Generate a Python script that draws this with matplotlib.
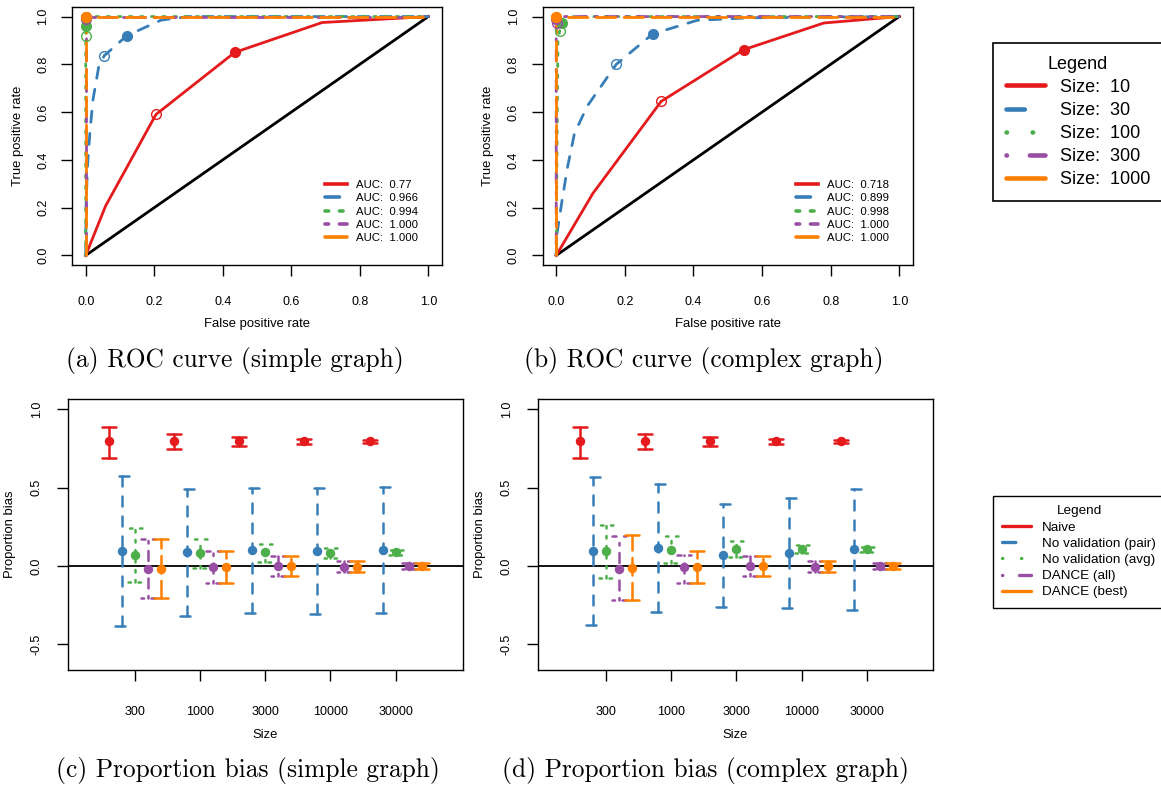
import numpy as np
import matplotlib.pyplot as plt
from matplotlib.lines import Line2D

plt.rcParams['font.family'] = ['Liberation Sans', 'DejaVu Sans']
plt.rcParams['axes.unicode_minus'] = False

# ---- data: ROC curves (fpr, tpr), open / filled threshold points ----
sizes_roc = ["10", "30", "100", "300", "1000"]

# (a) simple graph
a_fpr = [[0, 0.058, 0.205, 0.435, 0.69, 1],
         [0, 0.001, 0.005, 0.012, 0.021, 0.038, 0.054, 0.12, 0.22, 0.30, 1],
         [0, 0, 0, 0.02, 1],
         [0, 0, 1],
         [0, 0, 1]]
a_tpr = [[0, 0.207, 0.59, 0.85, 0.975, 1],
         [0, 0.2, 0.37, 0.51, 0.65, 0.79, 0.836, 0.92, 0.985, 1.0, 1],
         [0, 0.92, 0.96, 1, 1],
         [0, 1, 1],
         [0, 1, 1]]
a_open = [(0.205, 0.59), (0.054, 0.836), (0, 0.92), (0, 0.99), (0, 1)]
a_fill = [(0.435, 0.85), (0.12, 0.92), (0, 0.96), (0, 1), (0, 1)]
a_auc = ["0.77", "0.966", "0.994", "1.000", "1.000"]

# (b) complex graph
b_fpr = [[0, 0.107, 0.306, 0.546, 0.78, 1],
         [0, 0.002, 0.017, 0.033, 0.053, 0.09, 0.175, 0.281, 0.41, 0.57, 1],
         [0, 0.005, 0.01, 0.017, 0.05, 1],
         [0, 0, 0.01, 1],
         [0, 0, 1]]
b_tpr = [[0, 0.26, 0.645, 0.861, 0.973, 1],
         [0, 0.088, 0.23, 0.37, 0.51, 0.624, 0.80, 0.927, 0.984, 0.995, 1],
         [0, 0.9, 0.94, 0.975, 1, 1],
         [0, 0.97, 1, 1],
         [0, 1, 1]]
b_open = [(0.306, 0.645), (0.175, 0.80), (0.01, 0.94), (0.003, 0.975), (0, 1)]
b_fill = [(0.546, 0.861), (0.281, 0.927), (0.017, 0.975), (0, 0.99), (0, 1)]
b_auc = ["0.718", "0.899", "0.998", "1.000", "1.000"]

# ---- data: proportion bias (mean, low, high) per method x size ----
bias_sizes = ["300", "1000", "3000", "10000", "30000"]
methods = ["Naive", "No validation (pair)", "No validation (avg)",
           "DANCE (all)", "DANCE (best)"]

c_mean = [[0.80, 0.795, 0.795, 0.795, 0.795],
          [0.097, 0.087, 0.102, 0.095, 0.10],
          [0.072, 0.081, 0.087, 0.085, 0.087],
          [-0.019, -0.006, 0.0, -0.004, 0.0],
          [-0.019, -0.004, 0.002, -0.004, 0.0]]
c_lo = [[0.69, 0.747, 0.764, 0.779, 0.786],
        [-0.382, -0.32, -0.297, -0.308, -0.30],
        [-0.10, -0.011, 0.025, 0.053, 0.068],
        [-0.206, -0.106, -0.064, -0.038, -0.021],
        [-0.206, -0.106, -0.062, -0.038, -0.021]]
c_hi = [[0.89, 0.843, 0.823, 0.809, 0.803],
        [0.573, 0.49, 0.499, 0.497, 0.503],
        [0.244, 0.172, 0.142, 0.117, 0.102],
        [0.17, 0.097, 0.064, 0.034, 0.017],
        [0.172, 0.095, 0.064, 0.034, 0.017]]

d_mean = [[0.80, 0.795, 0.795, 0.795, 0.795],
          [0.097, 0.117, 0.068, 0.085, 0.106],
          [0.097, 0.104, 0.11, 0.106, 0.108],
          [-0.017, -0.006, 0.0, -0.004, 0.0],
          [-0.015, -0.006, 0.0, -0.002, 0.0]]
d_lo = [[0.69, 0.747, 0.764, 0.779, 0.786],
        [-0.374, -0.293, -0.263, -0.27, -0.28],
        [-0.074, 0.019, 0.055, 0.081, 0.089],
        [-0.219, -0.108, -0.064, -0.038, -0.021],
        [-0.219, -0.108, -0.064, -0.038, -0.021]]
d_hi = [[0.89, 0.843, 0.823, 0.809, 0.803],
        [0.569, 0.522, 0.397, 0.437, 0.49],
        [0.263, 0.191, 0.161, 0.136, 0.123],
        [0.189, 0.072, 0.066, 0.034, 0.017],
        [0.196, 0.095, 0.066, 0.034, 0.017]]

cols = ['#E41A1C', '#377EB8', '#4DAF4A', '#984EA3', '#FF7F00']
# R line types: solid, dashed, dotted, dotdash, longdash
ltys = [(), (4, 4), (1, 3), (1, 3, 4, 3), (7, 3)]
# short legend keys show only the start of each pattern
key_ltys = [(), (4, 6), (0.1, 5.6), (0.1, 5.0, 4, 3), (9, 3)]

W, H = 1161, 791
fig = plt.figure(figsize=(W / 100, H / 100), dpi=100)


def px_axes(l, t, r, b):
    return fig.add_axes([l / W, 1 - b / H, (r - l) / W, (b - t) / H])


def ls(pats, k, scale=1.0):
    if not pats[k]:
        return '-'
    return (0, tuple(v * scale for v in pats[k]))


def style(ax, xpad, ypad):
    for s in ax.spines.values():
        s.set_linewidth(1.0)
    ax.tick_params(direction='out', length=8, width=1, labelsize=9, colors='black')
    ax.tick_params(axis='x', pad=xpad)
    ax.tick_params(axis='y', pad=ypad, labelrotation=90)
    for lab in ax.get_yticklabels():
        lab.set_va('center')
    ax.xaxis.label.set_va('center')
    ax.yaxis.label.set_va('center')


def roc_panel(box, fpr, tpr, opn, fil, auc):
    ax = px_axes(*box)
    ax.plot([0, 1], [0, 1], color='black', lw=2.0)
    for k in range(5):
        ax.plot(fpr[k], tpr[k], color=cols[k], lw=2.0, ls=ls(ltys, k),
                dash_capstyle='round')
    for k in range(5):
        ax.plot(*opn[k], 'o', mfc='none', mec=cols[k], ms=7, mew=1.0)
        ax.plot(*fil[k], 'o', color=cols[k], ms=7)
    ax.set_xlim(-0.04, 1.04)
    ax.set_ylim(-0.04, 1.04)
    ax.set_xticks(np.arange(0, 1.01, 0.2))
    ax.set_yticks(np.arange(0, 1.01, 0.2))
    ax.xaxis.set_major_formatter('{x:.1f}')
    ax.yaxis.set_major_formatter('{x:.1f}')
    ax.set_xlabel("False positive rate", fontsize=9.4)
    ax.set_ylabel("True positive rate", fontsize=9.4)
    style(ax, 14.5, 8.5)
    ax.xaxis.set_label_coords(0.5, -0.229)
    ax.yaxis.set_label_coords(-0.146, 0.5)
    hs = [Line2D([], [], color=cols[k], lw=2.6, ls=ls(ltys, k),
                 dash_capstyle='round') for k in range(5)]
    ax.legend(hs, ["AUC:  " + v for v in auc], loc='upper left',
              bbox_to_anchor=(0.684, 0.329), frameon=False, fontsize=8.2,
              handlelength=1.95, handletextpad=0.8, labelspacing=0.29,
              borderpad=0, borderaxespad=0)
    return ax


def bias_panel(box, xlim, mean, lo, hi):
    ax = px_axes(*box)
    ax.axhline(0, color='black', lw=1.3)
    offs = [-0.4, -0.2, 0.0, 0.2, 0.4]
    h = 0.107
    for k in range(5):
        for i in range(5):
            x = i + 1 + offs[k]
            kw = dict(color=cols[k], lw=1.8, ls=ls(ltys, k), dash_capstyle='round',
                      solid_capstyle='round')
            ax.plot([x, x], [lo[k][i], hi[k][i]], **kw)
            ax.plot([x + h, x - h], [hi[k][i], hi[k][i]], **kw)
            ax.plot([x - h, x + h], [lo[k][i], lo[k][i]], **kw)
            ax.plot(x, mean[k][i], 'o', color=cols[k], ms=5.8)
    ax.set_xlim(*xlim)
    ax.set_ylim(-0.664, 1.066)
    ax.set_xticks(range(1, 6))
    ax.set_xticklabels(bias_sizes)
    ax.set_yticks([-0.5, 0.0, 0.5, 1.0])
    ax.yaxis.set_major_formatter('{x:.1f}')
    ax.set_xlabel("Size", fontsize=9.4)
    ax.set_ylabel("Proportion bias", fontsize=9.4)
    style(ax, 18, 10)
    ax.xaxis.set_label_coords(0.5, -0.24)
    ax.yaxis.set_label_coords(-0.147, 0.5)
    return ax


roc_panel((72, 7, 442, 265), a_fpr, a_tpr, a_open, a_fill, a_auc)
roc_panel((542.5, 7, 913, 265), b_fpr, b_tpr, b_open, b_fill, b_auc)
bias_panel((68, 399, 462.7, 670), (-0.03, 6.03), c_mean, c_lo, c_hi)
bias_panel((538, 399, 933, 670), (-0.04, 6.01), d_mean, d_lo, d_hi)

# legends on the right
h1 = [Line2D([], [], color=cols[k], lw=3.3, ls=ls(key_ltys, k),
             dash_capstyle='round', solid_capstyle='round') for k in range(5)]
lg1 = fig.legend(h1, ["Size:  " + s for s in sizes_roc], loc='upper left',
                 bbox_to_anchor=(993 / W, 1 - 43 / H), fontsize=13,
                 title="Legend", title_fontsize=13, fancybox=False,
                 edgecolor='black', framealpha=1, borderpad=0.7,
                 handlelength=2.2, handletextpad=0.8, labelspacing=0.34,
                 borderaxespad=0)
lg1.get_frame().set_linewidth(1.2)

h2 = [Line2D([], [], color=cols[k], lw=2.4, ls=ls(key_ltys, k),
             dash_capstyle='round', solid_capstyle='round') for k in range(5)]
lg2 = fig.legend(h2, methods, loc='upper left',
                 bbox_to_anchor=(993 / W, 1 - 496 / H), fontsize=9.7,
                 title="Legend", title_fontsize=9.7, fancybox=False,
                 edgecolor='black', framealpha=1, borderpad=0.7,
                 handlelength=2.15, handletextpad=0.8, labelspacing=0.28,
                 borderaxespad=0)
lg2.get_frame().set_linewidth(1.0)

# captions
cap = dict(ha='center', va='center', fontfamily='cmr10', fontsize=18.3)
fig.text(235 / W, 1 - 360 / H, "(a) ROC curve (simple graph)", **cap)
fig.text(704 / W, 1 - 360 / H, "(b) ROC curve (complex graph)", **cap)
fig.text(248 / W, 1 - 771 / H, "(c) Proportion bias (simple graph)", **cap)
fig.text(705 / W, 1 - 771 / H, "(d) Proportion bias (complex graph)", **cap)

fig.savefig("out.png", dpi=100)
